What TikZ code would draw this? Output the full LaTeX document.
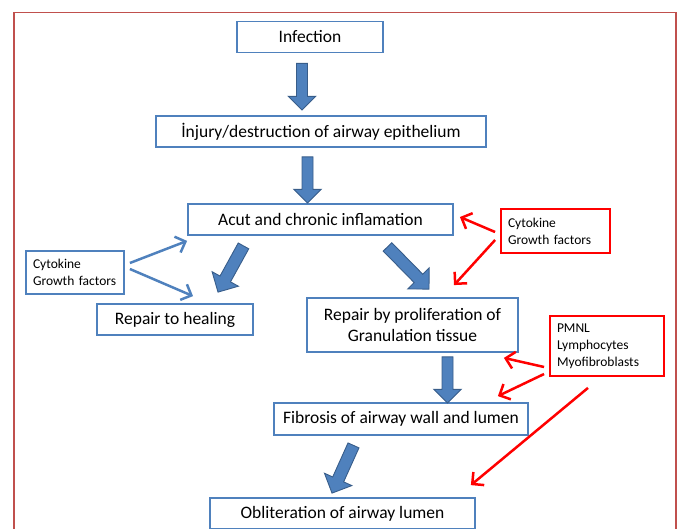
\documentclass[tikz,border=0pt]{standalone}
\usepackage{fontspec}
\setmainfont{Carlito}
\usetikzlibrary{arrows.meta,calc}

\definecolor{boxblue}{RGB}{79,129,189}
\definecolor{arrowedge}{RGB}{56,93,138}
\definecolor{framered}{RGB}{192,80,77}

\newcommand{\bigarrow}[3][5.5]{%
  \path (#2) coordinate (ba-s) (#3) coordinate (ba-e);
  \pgfmathsetmacro\bahead{2.5*#1}
  \path ($(ba-e)!\bahead pt!(ba-s)$) coordinate (ba-h);
  \draw[blockarrow] ($(ba-s)!#1pt!90:(ba-e)$) -- ($(ba-h)!#1pt!90:(ba-e)$)
    -- ($(ba-h)!\bahead pt!90:(ba-e)$) -- (ba-e) -- ($(ba-h)!\bahead pt!-90:(ba-e)$)
    -- ($(ba-h)!#1pt!-90:(ba-e)$) -- ($(ba-s)!#1pt!-90:(ba-e)$) -- cycle;
}

\begin{document}
\begin{tikzpicture}[x=1pt, y=-1pt,
  stagebox/.style={draw=boxblue, line width=1.8pt, minimum height=31pt, inner sep=0pt,
    align=center, font=\fontsize{17.5}{21}\selectfont},
  factorbox/.style={line width=1.8pt, inner xsep=7pt, inner ysep=0pt, align=left,
    font=\fontsize{13.5}{17}\selectfont},
  blockarrow/.style={draw=arrowedge, fill=boxblue, line width=0.9pt, line join=miter},
  bluelink/.style={draw=boxblue, line width=2.5pt, -{Straight Barb[length=8.5pt,width=17pt]}},
  redlink/.style={draw=red, line width=2.5pt, -{Straight Barb[length=8.5pt,width=17pt]}}]
\useasboundingbox (0,0) rectangle (678,528);
\clip (0,0) rectangle (678,528);
\draw[framered, line width=1.2pt] (14,12.7) rectangle (676,560);

\node[stagebox, minimum width=146pt] (Inf) at (310,37) {Infection};
\node[stagebox, minimum width=330pt] (Inj) at (321,131.5) {İnjury/destruction of airway epithelium};
\node[stagebox, minimum width=265pt] (Acut) at (320.5,219.5) {Acut and chronic inflamation};
\node[stagebox, minimum width=156pt] (Heal) at (175,319.5) {Repair to healing};
\node[stagebox, minimum width=211pt, minimum height=54pt] (Gran) at (412.5,325) {Repair by proliferation of\\Granulation tissue};
\node[stagebox, minimum width=254pt, minimum height=32pt] (Fib) at (401,419) {Fibrosis of airway wall and lumen};
\node[stagebox, minimum width=265pt] (Obl) at (342.5,513.5) {Obliteration of airway lumen};

\node[factorbox, draw=boxblue, text width=84pt, minimum height=43pt] (CytL) at (75,272.5) {Cytokine\\Growth factors};
\node[factorbox, draw=red, text width=95pt, minimum height=44pt] (CytR) at (555.5,231) {Cytokine\\Growth factors};
\node[factorbox, draw=red, text width=100pt, minimum height=60pt] (Cells) at (607,346) {PMNL\\Lymphocytes\\Myofibroblasts};

\bigarrow{[shift={(-8,10)}]Inf.south}{[shift={(-19,-5)}]Inj.north}
\bigarrow{[shift={(-13.5,9)}]Inj.south}{[shift={(-13,0)}]Acut.north}
\bigarrow[6]{[shift={(-77,10)}]Acut.south}{[shift={(43,-11)}]Heal.north}
\bigarrow[6]{[shift={(67,11)}]Acut.south}{[shift={(16.5,-8)}]Gran.north}
\bigarrow{[shift={(35,4)}]Gran.south}{[shift={(46.5,1)}]Fib.north}
\bigarrow[6]{[shift={(-47.5,9.5)}]Fib.south}{[shift={(-10.5,-4)}]Obl.north}

\draw[bluelink] ([shift={(5,-9.5)}]CytL.east) -- ([shift={(0,5)}]Acut.south west);
\draw[bluelink] ([shift={(5,-3.5)}]CytL.east) -- ([shift={(18,-7)}]Heal.north);
\draw[redlink] ([shift={(-5,1)}]CytR.west) -- ([shift={(6,-2.5)}]Acut.east);
\draw[redlink] ([shift={(-5,9)}]CytR.west) -- ([shift={(41.5,-12)}]Gran.north);
\draw[redlink] ([shift={(-5,21)}]Cells.west) -- ([shift={(-15,5)}]Gran.south east);
\draw[redlink] ([shift={(-5,28)}]Cells.west) -- ([shift={(-31,-6)}]Fib.north east);
\draw[redlink] ([shift={(-19,11)}]Cells.south) -- ([shift={(-5,-12)}]Obl.north east);
\end{tikzpicture}
\end{document}
